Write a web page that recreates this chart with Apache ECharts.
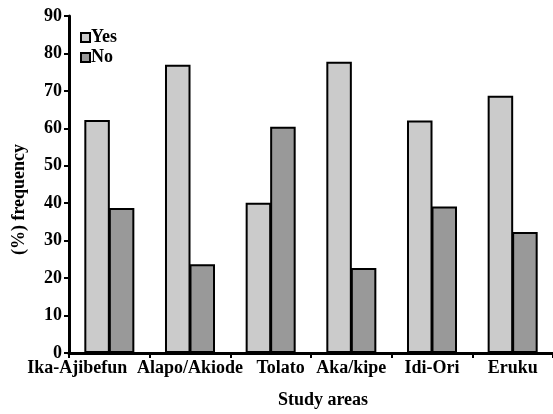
<!DOCTYPE html>
<html>
<head>
<meta charset="utf-8">
<script src="https://cdn.jsdelivr.net/npm/echarts@6/dist/echarts.min.js"></script>
<style>
  html, body { margin: 0; padding: 0; background: #fff; }
  #chart { width: 553px; height: 414px; }
</style>
</head>
<body>
<div id="chart"></div>
<script>
// study areas and % frequency answers
const areas = ['Ika-Ajibefun', 'Alapo/Akiode', 'Tolato', 'Aka/kipe', 'Idi-Ori', 'Eruku'];
const yesValues = [62.2, 77.0, 40.1, 77.8, 62.1, 68.7];
const noValues = [38.7, 23.7, 60.4, 22.7, 39.1, 32.3];
const yTicks = { min: 0, max: 90, step: 10 };

const font = 'Liberation Serif';
const txt = { fontFamily: font, fontSize: 18, fontWeight: 'bold', color: '#000' };
const labelShift = { 'Ika-Ajibefun': [0, 64, 0, 0], 'Tolato': [0, 0, 0, 20] };

const chart = echarts.init(document.getElementById('chart'));

const option = {
  animation: false,
  textStyle: { fontFamily: font, color: '#000' },
  grid: { left: 69, right: 0, top: 16, bottom: 60, containLabel: false },
  legend: {
    orient: 'vertical',
    left: 75,
    top: 23,
    itemWidth: 9,
    itemHeight: 9,
    itemGap: 1,
    icon: 'rect',
    textStyle: { ...txt, lineHeight: 19, padding: [0, 0, 0, -4] },
    data: ['Yes', 'No'],
  },
  xAxis: {
    type: 'category',
    data: areas.map(a => ({ value: a, textStyle: labelShift[a] ? { padding: labelShift[a] } : {} })),
    name: 'Study areas',
    nameLocation: 'middle',
    nameGap: 38,
    nameTextStyle: { ...txt, padding: [0, 0, 0, 24] },
    axisLine: { lineStyle: { color: '#000', width: 3 } },
    axisTick: { show: true, length: 5, lineStyle: { color: '#000', width: 2 } },
    axisLabel: { ...txt, margin: 6, interval: 0 },
  },
  yAxis: {
    type: 'value',
    min: yTicks.min,
    max: yTicks.max,
    interval: yTicks.step,
    name: '(%) frequency',
    nameLocation: 'middle',
    nameGap: 41,
    nameTextStyle: { ...txt, padding: [0, 30, 0, 0] },
    axisLine: { show: true, lineStyle: { color: '#000', width: 3 } },
    axisTick: { show: true, length: 5, lineStyle: { color: '#000', width: 2 } },
    axisLabel: { ...txt, margin: 7 },
    splitLine: { show: false },
  },
  series: [
    {
      name: 'Yes',
      type: 'bar',
      data: yesValues,
      barGap: '-4%',
      barCategoryGap: '38%',
      itemStyle: { color: '#cbcbcb', borderColor: '#000', borderWidth: 2 },
    },
    {
      name: 'No',
      type: 'bar',
      data: noValues,
      barGap: '-4%',
      barCategoryGap: '38%',
      itemStyle: { color: '#999999', borderColor: '#000', borderWidth: 2 },
    },
  ],
};

chart.setOption(option);
</script>
</body>
</html>
